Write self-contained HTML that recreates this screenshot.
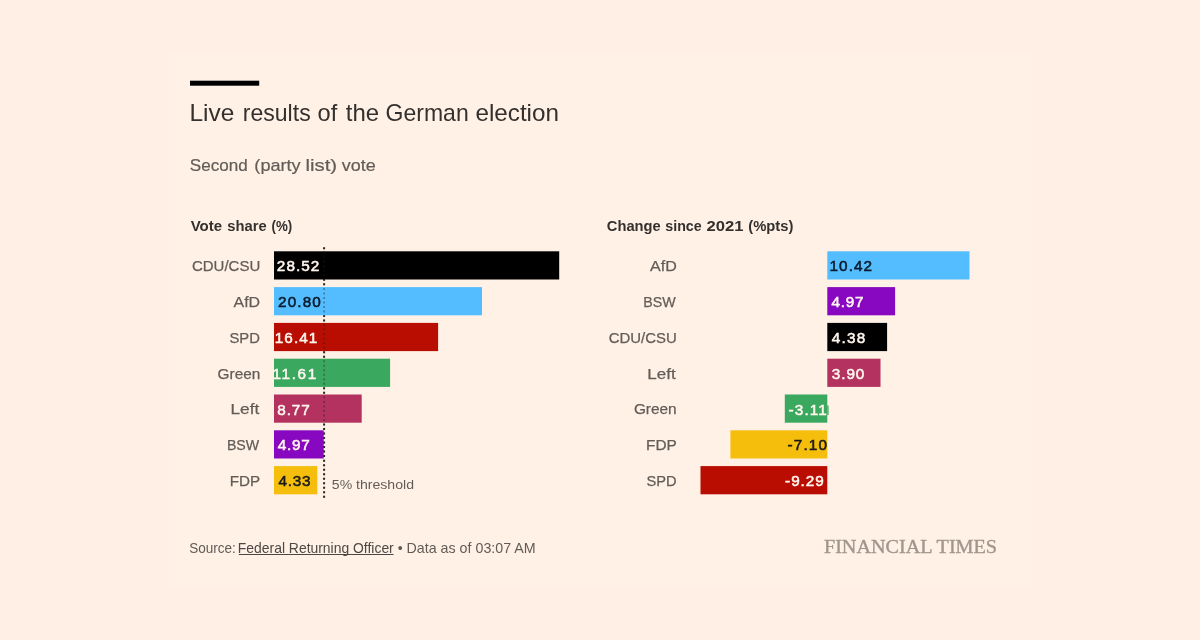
<!DOCTYPE html>
<html lang="en"><head><meta charset="utf-8"><title>Live results of the German election</title>
<style>
html,body{margin:0;padding:0;}
body{width:1200px;height:640px;background:#ffefe4;overflow:hidden;font-family:"Liberation Sans",sans-serif;}
svg{display:block;position:absolute;left:0;top:0;}
text{font-family:"Liberation Sans",sans-serif;}
</style></head><body>
<svg width="1200" height="640" viewBox="0 0 1200 640">
<rect x="169" y="53" width="862" height="534" fill="#fff1e6"/>
<rect x="190" y="80.7" width="69.2" height="5" fill="#000"/>
<line x1="324.1" y1="247.2" x2="324.1" y2="498.2" stroke="#33302e" stroke-width="2" stroke-dasharray="2 2.52"/>
<rect x="274" y="251.3" width="285.2" height="28.2" fill="#000000"/>
<rect x="274" y="287.1" width="208.0" height="28.2" fill="#54bdff"/>
<rect x="274" y="322.9" width="164.1" height="28.2" fill="#b80d00"/>
<rect x="274" y="358.7" width="116.1" height="28.2" fill="#3aa85f"/>
<rect x="274" y="394.5" width="87.7" height="28.2" fill="#b3325f"/>
<rect x="274" y="430.3" width="49.7" height="28.2" fill="#8708c0"/>
<rect x="274" y="466.1" width="43.3" height="28.2" fill="#f5bd0c"/>
<rect x="827.3" y="251.3" width="142.2" height="28.2" fill="#54bdff"/>
<rect x="827.3" y="287.1" width="67.8" height="28.2" fill="#8708c0"/>
<rect x="827.3" y="322.9" width="59.8" height="28.2" fill="#000000"/>
<rect x="827.3" y="358.7" width="53.2" height="28.2" fill="#b3325f"/>
<rect x="784.8" y="394.5" width="42.5" height="28.2" fill="#3aa85f"/>
<rect x="730.4" y="430.3" width="96.9" height="28.2" fill="#f5bd0c"/>
<rect x="700.5" y="466.1" width="126.8" height="28.2" fill="#b80d00"/>
<line x1="324.1" y1="247.2" x2="324.1" y2="498.2" stroke="#1d1b1a" stroke-width="1.1" stroke-dasharray="2 2.52" opacity="0.6"/>
<text y="121.0" font-size="24"><tspan x="189.47" fill="#33302e" textLength="44.81" lengthAdjust="spacingAndGlyphs">Live</tspan> <tspan x="242.77" fill="#33302e" textLength="67.89" lengthAdjust="spacingAndGlyphs">results</tspan> <tspan x="317.59" fill="#33302e" textLength="19.69" lengthAdjust="spacingAndGlyphs">of</tspan> <tspan x="345.8" fill="#33302e" textLength="33.31" lengthAdjust="spacingAndGlyphs">the</tspan> <tspan x="385.59" fill="#33302e" textLength="83.1" lengthAdjust="spacingAndGlyphs">German</tspan> <tspan x="475.44" fill="#33302e" textLength="83.52" lengthAdjust="spacingAndGlyphs">election</tspan></text>
<text y="171.3" font-size="17"><tspan x="189.78" fill="#625c57" stroke="#625c57" stroke-width="0.2" textLength="57.9" lengthAdjust="spacingAndGlyphs">Second</tspan> <tspan x="254.36" fill="#625c57" stroke="#625c57" stroke-width="0.2" textLength="46.33" lengthAdjust="spacingAndGlyphs">(party</tspan> <tspan x="305.47" fill="#625c57" stroke="#625c57" stroke-width="0.2" textLength="31.69" lengthAdjust="spacingAndGlyphs">list)</tspan> <tspan x="341.88" fill="#625c57" stroke="#625c57" stroke-width="0.2" textLength="33.92" lengthAdjust="spacingAndGlyphs">vote</tspan></text>
<text y="230.8" font-size="15.2"><tspan x="190.65" font-weight="bold" fill="#33302e" textLength="31.43" lengthAdjust="spacingAndGlyphs">Vote</tspan> <tspan x="227.37" font-weight="bold" fill="#33302e" textLength="39.34" lengthAdjust="spacingAndGlyphs">share</tspan> <tspan x="271.51" font-weight="bold" fill="#33302e" textLength="20.72" lengthAdjust="spacingAndGlyphs">(%)</tspan></text>
<text y="230.8" font-size="15.2"><tspan x="606.82" font-weight="bold" fill="#33302e" textLength="53.83" lengthAdjust="spacingAndGlyphs">Change</tspan> <tspan x="665.26" font-weight="bold" fill="#33302e" textLength="36.46" lengthAdjust="spacingAndGlyphs">since</tspan> <tspan x="706.5" font-weight="bold" fill="#33302e" textLength="37.0" lengthAdjust="spacingAndGlyphs">2021</tspan> <tspan x="748.22" font-weight="bold" fill="#33302e" textLength="45.13" lengthAdjust="spacingAndGlyphs">(%pts)</tspan></text>
<text x="191.97" y="271.1" font-size="15.3" fill="#625c57" stroke="#625c57" stroke-width="0.25" textLength="68.3" lengthAdjust="spacingAndGlyphs">CDU/CSU</text>
<text x="276.83" y="271.4" font-size="15.3" fill="#fff6ee" stroke="#fff6ee" stroke-width="0.55" textLength="42.48" lengthAdjust="spacing">28.52</text>
<text x="233.52" y="306.9" font-size="15.3" fill="#625c57" stroke="#625c57" stroke-width="0.25" textLength="26.57" lengthAdjust="spacingAndGlyphs">AfD</text>
<text x="278.08" y="307.2" font-size="15.3" fill="#0b1a2b" stroke="#0b1a2b" stroke-width="0.55" textLength="42.69" lengthAdjust="spacing">20.80</text>
<text x="229.44" y="342.7" font-size="15.3" fill="#625c57" stroke="#625c57" stroke-width="0.25" textLength="30.44" lengthAdjust="spacingAndGlyphs">SPD</text>
<text x="274.69" y="343.0" font-size="15.3" fill="#fff6ee" stroke="#fff6ee" stroke-width="0.55" textLength="42.67" lengthAdjust="spacing">16.41</text>
<text x="217.6" y="378.5" font-size="15.3" fill="#625c57" stroke="#625c57" stroke-width="0.25" textLength="42.69" lengthAdjust="spacingAndGlyphs">Green</text>
<text x="272.59" y="378.8" font-size="15.3" fill="#fff6ee" stroke="#fff6ee" stroke-width="0.55" textLength="43.66" lengthAdjust="spacing">11.61</text>
<text x="230.47" y="414.3" font-size="15.3" fill="#625c57" stroke="#625c57" stroke-width="0.25" textLength="28.79" lengthAdjust="spacingAndGlyphs">Left</text>
<text x="277.25" y="414.6" font-size="15.3" fill="#fff6ee" stroke="#fff6ee" stroke-width="0.55" textLength="32.48" lengthAdjust="spacing">8.77</text>
<text x="226.88" y="450.1" font-size="15.3" fill="#625c57" stroke="#625c57" stroke-width="0.25" textLength="32.27" lengthAdjust="spacingAndGlyphs">BSW</text>
<text x="277.76" y="450.4" font-size="15.3" fill="#fff6ee" stroke="#fff6ee" stroke-width="0.55" textLength="31.91" lengthAdjust="spacing">4.97</text>
<text x="229.73" y="485.9" font-size="15.3" fill="#625c57" stroke="#625c57" stroke-width="0.25" textLength="30.42" lengthAdjust="spacingAndGlyphs">FDP</text>
<text x="278.56" y="486.2" font-size="15.3" fill="#1a1a1a" stroke="#1a1a1a" stroke-width="0.55" textLength="32.03" lengthAdjust="spacing">4.33</text>
<text x="650.02" y="271.1" font-size="15.3" fill="#625c57" stroke="#625c57" stroke-width="0.25" textLength="26.71" lengthAdjust="spacingAndGlyphs">AfD</text>
<text x="829.49" y="271.4" font-size="15.3" fill="#0b1a2b" stroke="#0b1a2b" stroke-width="0.55" textLength="42.64" lengthAdjust="spacing">10.42</text>
<text x="643.36" y="306.9" font-size="15.3" fill="#625c57" stroke="#625c57" stroke-width="0.25" textLength="32.44" lengthAdjust="spacingAndGlyphs">BSW</text>
<text x="831.46" y="307.2" font-size="15.3" fill="#fff6ee" stroke="#fff6ee" stroke-width="0.55" textLength="32.06" lengthAdjust="spacing">4.97</text>
<text x="608.73" y="342.7" font-size="15.3" fill="#625c57" stroke="#625c57" stroke-width="0.25" textLength="68.06" lengthAdjust="spacingAndGlyphs">CDU/CSU</text>
<text x="831.76" y="343.0" font-size="15.3" fill="#fff6ee" stroke="#fff6ee" stroke-width="0.55" textLength="33.39" lengthAdjust="spacing">4.38</text>
<text x="647.39" y="378.5" font-size="15.3" fill="#625c57" stroke="#625c57" stroke-width="0.25" textLength="28.35" lengthAdjust="spacingAndGlyphs">Left</text>
<text x="831.74" y="378.8" font-size="15.3" fill="#fff6ee" stroke="#fff6ee" stroke-width="0.55" textLength="32.64" lengthAdjust="spacing">3.90</text>
<text x="633.9" y="414.3" font-size="15.3" fill="#625c57" stroke="#625c57" stroke-width="0.25" textLength="42.75" lengthAdjust="spacingAndGlyphs">Green</text>
<text x="788.51" y="414.6" font-size="15.3" fill="#fff6ee" stroke="#fff6ee" stroke-width="0.55" textLength="38.26" lengthAdjust="spacing">-3.11</text>
<text x="646.04" y="450.1" font-size="15.3" fill="#625c57" stroke="#625c57" stroke-width="0.25" textLength="30.77" lengthAdjust="spacingAndGlyphs">FDP</text>
<text x="787.61" y="450.4" font-size="15.3" fill="#1a1a1a" stroke="#1a1a1a" stroke-width="0.55" textLength="39.29" lengthAdjust="spacing">-7.10</text>
<text x="646.44" y="485.9" font-size="15.3" fill="#625c57" stroke="#625c57" stroke-width="0.25" textLength="30.14" lengthAdjust="spacingAndGlyphs">SPD</text>
<text x="785.11" y="486.2" font-size="15.3" fill="#fff6ee" stroke="#fff6ee" stroke-width="0.55" textLength="38.63" lengthAdjust="spacing">-9.29</text>
<text x="331.82" y="489.1" font-size="13.6" fill="#625c57" textLength="82.19" lengthAdjust="spacingAndGlyphs">5% threshold</text>
<text y="552.8" font-size="14.1"><tspan x="189.13" fill="#625c57" textLength="46.71" lengthAdjust="spacingAndGlyphs">Source:</tspan> <tspan x="237.84" fill="#4d4845" textLength="155.93" lengthAdjust="spacingAndGlyphs">Federal Returning Officer</tspan> <tspan x="397.65" fill="#625c57" textLength="4.95" lengthAdjust="spacingAndGlyphs">•</tspan> <tspan x="406.56" fill="#625c57" textLength="129.13" lengthAdjust="spacingAndGlyphs">Data as of 03:07 AM</tspan></text>
<text x="823.92" y="552.5" font-size="18.6" fill="#a0968d" stroke="#a0968d" stroke-width="0.35" textLength="173.19" lengthAdjust="spacingAndGlyphs" style="font-family:'Liberation Serif',serif">FINANCIAL TIMES</text>
<rect x="827.3" y="405.5" width="1.3" height="9.5" fill="#3aa85f"/>
<rect x="238.8" y="554" width="154.8" height="1" fill="#4d4845"/>
</svg>
</body></html>
